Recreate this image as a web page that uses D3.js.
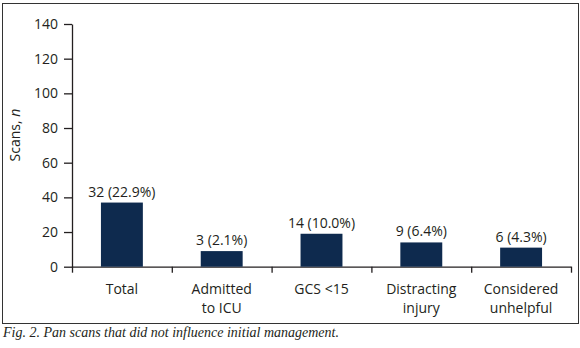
<!DOCTYPE html>
<html>
<head>
<meta charset="utf-8">
<script src="https://cdn.jsdelivr.net/npm/d3@7"></script>
<style>
  body { margin: 0; background: #fff; }
  text { font-family: "Open Sans", sans-serif; fill: #231f20; }
</style>
</head>
<body>
<div id="chart"></div>
<script>
// data
var categories = ["Total", "Admitted\nto ICU", "GCS <15", "Distracting\ninjury", "Considered\nunhelpful"];
var barValues = [37, 9, 19, 14, 11];
var barLabels = ["32 (22.9%)", "3 (2.1%)", "14 (10.0%)", "9 (6.4%)", "6 (4.3%)"];
var yTicks = [0, 20, 40, 60, 80, 100, 120, 140];

var W = 580, H = 348;
var plotLeft = 72, plotRight = 571, plotTop = 24, plotBottom = 266.7;

var svg = d3.select("#chart")
  .append("svg")
    .attr("width", W)
    .attr("height", H);

// outer frame
svg.append("rect")
  .attr("x", 2.5).attr("y", 3.5)
  .attr("width", 576).attr("height", 320)
  .attr("fill", "none")
  .attr("stroke", "#333")
  .attr("stroke-width", 1);

var x = d3.scaleBand()
  .domain(categories)
  .range([plotLeft, plotRight])
  .paddingInner(0.58)
  .paddingOuter(0.29);

var y = d3.scaleLinear()
  .domain([0, 140])
  .range([plotBottom, plotTop]);

// Y axis
var yAxis = svg.append("g")
  .attr("transform", "translate(" + plotLeft + ",0)")
  .call(d3.axisLeft(y).tickValues(yTicks).tickSize(8).tickSizeOuter(0).tickPadding(6));
yAxis.selectAll("path, line").attr("stroke", "#231f20").attr("stroke-width", 1.3);
yAxis.selectAll("text").attr("font-size", "14px").attr("font-family", "Open Sans, sans-serif").attr("fill", "#231f20");

// X axis: baseline with ticks at the category boundaries
var xb = d3.scaleLinear().domain([0, categories.length]).range([plotLeft, plotRight]);
var xAxis = svg.append("g")
  .attr("transform", "translate(0," + plotBottom + ")")
  .call(d3.axisBottom(xb).ticks(categories.length).tickSize(6).tickSizeOuter(0).tickFormat(""));
xAxis.selectAll("path, line").attr("stroke", "#231f20").attr("stroke-width", 1.3);

// bars
svg.selectAll(".bar")
  .data(categories)
  .enter().append("rect")
    .attr("class", "bar")
    .attr("x", function(d) { return x(d); })
    .attr("width", x.bandwidth())
    .attr("y", function(d, i) { return y(barValues[i]); })
    .attr("height", function(d, i) { return y(0) - y(barValues[i]); })
    .attr("fill", "#0e2a4e");

// value labels over bars
svg.selectAll(".vlab")
  .data(categories)
  .enter().append("text")
    .attr("class", "vlab")
    .attr("x", function(d) { return x(d) + x.bandwidth() / 2; })
    .attr("y", function(d, i) { return y(barValues[i]) - 6; })
    .attr("text-anchor", "middle")
    .attr("font-size", "14px")
    .text(function(d, i) { return barLabels[i]; });

// category labels, two lines max
var cat = svg.selectAll(".clab")
  .data(categories)
  .enter().append("text")
    .attr("class", "clab")
    .attr("text-anchor", "middle")
    .attr("font-size", "14px");
cat.selectAll("tspan")
  .data(function(d) { return d.split("\n").map(function(s) { return {s: s, c: d}; }); })
  .enter().append("tspan")
    .attr("x", function(t) { return x(t.c) + x.bandwidth() / 2; })
    .attr("y", function(t, j) { return 294 + j * 18.5; })
    .text(function(t) { return t.s; });

// y axis title
var yt = svg.append("text")
  .attr("transform", "translate(20,135) rotate(-90)")
  .attr("text-anchor", "middle")
  .attr("font-size", "14px");
yt.append("tspan").text("Scans, ");
yt.append("tspan").attr("font-style", "italic").text("n");

// caption
svg.append("text")
  .attr("x", 3)
  .attr("y", 337)
  .attr("font-style", "italic")
  .attr("font-size", "14px")
  .style("font-family", "Liberation Serif, serif")
  .text("Fig. 2. Pan scans that did not influence initial management.");
</script>
</body>
</html>
